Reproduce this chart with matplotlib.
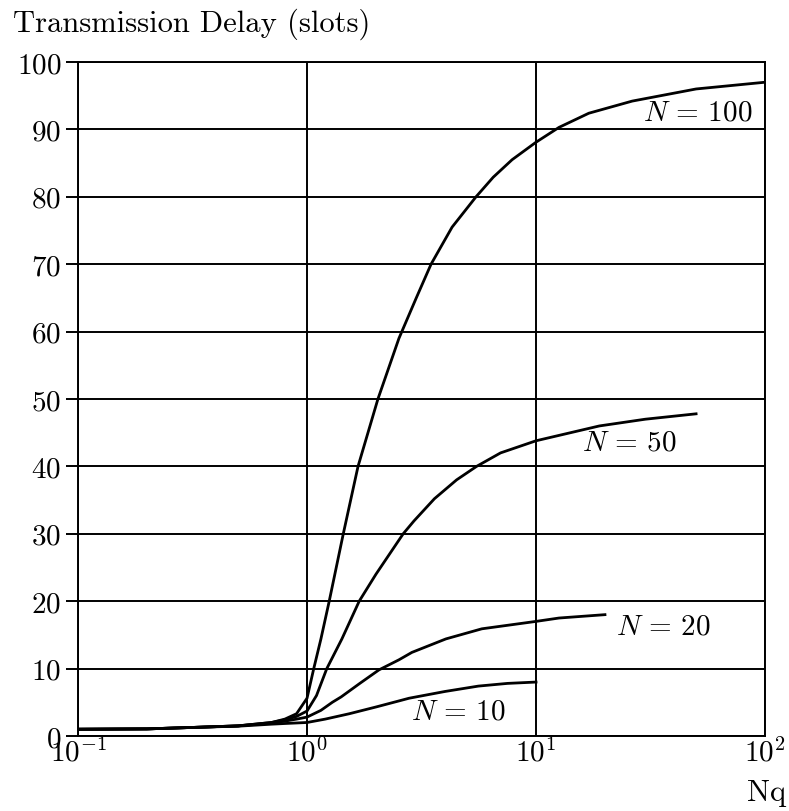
import matplotlib
matplotlib.use("Agg")
import matplotlib.pyplot as plt

plt.rcParams['font.family'] = 'cmr10'
plt.rcParams['mathtext.fontset'] = 'cm'
plt.rcParams['axes.formatter.use_mathtext'] = True
plt.rcParams['axes.unicode_minus'] = False

# Data
x_n100 = [0.1, 0.2, 0.34, 0.5, 0.7, 0.8, 0.9, 1.0, 1.07, 1.15, 1.25, 1.44, 1.67, 2.04, 2.52, 3.0, 3.48, 4.3, 5.47, 6.5, 7.86, 10, 12.6, 17, 26.3, 50, 100]
y_n100 = [1.0, 1.05, 1.3, 1.5, 2.0, 2.5, 3.3, 5.6, 10, 14.4, 20, 30, 40, 50, 59, 65, 70, 75.5, 80, 82.9, 85.5, 88.1, 90.3, 92.4, 94.2, 96, 97]

x_n50 = [0.1, 0.2, 0.34, 0.5, 0.7, 0.8, 0.9, 1.0, 1.1, 1.22, 1.42, 1.69, 2.0, 2.63, 2.93, 3.6, 4.5, 5.5, 7, 10, 18.9, 30, 50]
y_n50 = [1.0, 1.05, 1.3, 1.5, 2.0, 2.4, 2.9, 3.7, 6.0, 10, 14.4, 20, 24, 30, 31.9, 35.2, 38, 40, 42, 43.8, 46, 47, 47.8]

x_n20 = [0.1, 0.2, 0.34, 0.5, 0.7, 0.8, 0.9, 1.0, 1.15, 1.29, 1.41, 1.7, 2.06, 2.52, 2.87, 4.04, 5.8, 10, 12.6, 20]
y_n20 = [1.0, 1.05, 1.3, 1.5, 1.9, 2.2, 2.5, 2.8, 3.8, 5.0, 5.8, 7.8, 9.8, 11.3, 12.4, 14.4, 15.9, 17.0, 17.5, 18.0]

x_n10 = [0.1, 0.2, 0.34, 0.5, 0.7, 0.8, 1.0, 1.2, 1.53, 2.0, 2.52, 2.79, 4.0, 5.6, 7.5, 10]
y_n10 = [1.0, 1.05, 1.3, 1.45, 1.75, 1.85, 2.0, 2.5, 3.3, 4.3, 5.2, 5.6, 6.6, 7.4, 7.8, 8.0]

curve_labels = [r'$N\,=\,100$', r'$N\,=\,50$', r'$N\,=\,20$', r'$N\,=\,10$']
y_ticks = [0, 10, 20, 30, 40, 50, 60, 70, 80, 90, 100]
x_ticks = [0.1, 1, 10, 100]

fig = plt.figure(figsize=(7.89, 8.12), dpi=100)
ax = fig.add_axes([0.0989, 0.0924, 0.8707, 0.83])

lw = 2.0
for xs, ys in [(x_n100, y_n100), (x_n50, y_n50), (x_n20, y_n20), (x_n10, y_n10)]:
    ax.plot(xs, ys, color='black', lw=lw, solid_joinstyle='round')

ax.set_xscale('log')
ax.set_xlim(0.1, 100)
ax.set_ylim(0, 100)
ax.set_yticks(y_ticks)
ax.set_xticks(x_ticks)
ax.minorticks_off()
ax.grid(True, color='black', lw=1.4)
for s in ax.spines.values():
    s.set_linewidth(1.4)
ax.tick_params(axis='y', direction='out', length=9, width=1.4, labelsize=21, pad=3)
ax.tick_params(axis='x', direction='out', length=0, labelsize=21, pad=1)

fs = 21
ax.text(87.8, 92.6, curve_labels[0], fontsize=fs, ha='right', va='center')
ax.text(15.9, 43.6, curve_labels[1], fontsize=fs, ha='left', va='center')
ax.text(22.4, 16.2, curve_labels[2], fontsize=fs, ha='left', va='center')
ax.text(2.84, 3.7, curve_labels[3], fontsize=fs, ha='left', va='center')

fig.text(13 / 789, 1 - 24 / 812, 'Transmission Delay (slots)', fontsize=22, ha='left', va='center')
fig.text(767 / 789, 1 - 793 / 812, 'Nq', fontsize=22, ha='center', va='center')

fig.savefig('out.png', dpi=100)
